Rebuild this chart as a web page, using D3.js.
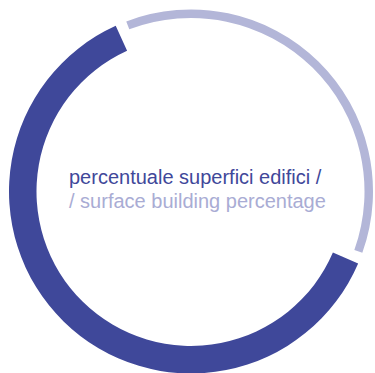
<!DOCTYPE html>
<html>
<head>
<meta charset="utf-8">
<script src="https://cdn.jsdelivr.net/npm/d3@7"></script>
<style>
  html, body { margin: 0; padding: 0; background: #fff; }
  svg { display: block; }
</style>
</head>
<body>
<div id="chart"></div>
<script>
// share of surface covered by buildings vs the rest
const categories = ["edifici", "altro"];
const values = [63, 37];
const colors = ["#3f489a", "#b3b6d8"];
const titleLines = ["percentuale superfici edifici /", "/ surface building percentage"];
const titleColors = ["#3f489a", "#a9acd4"];

function drawRing(containerId) {
  const width = 375;
  const height = 373;
  const cx = 191, cy = 191.5;
  const outer = 182;
  // thick ring for buildings, thin one for the remainder
  const inner = [154.5, 173.5];

  const svg = d3.select(containerId).append("svg")
    .attr("width", width)
    .attr("height", height);

  const g = svg.append("g")
    .attr("transform", `translate(${cx},${cy})`);

  const pie = d3.pie()
    .sort(null)
    .startAngle(111.5 * Math.PI / 180)
    .endAngle(471.5 * Math.PI / 180)
    .padAngle(3.6 * Math.PI / 180);

  const slices = pie(values);

  // radial cuts at the gaps instead of d3's parallel padding
  const arc = d3.arc()
    .outerRadius(outer)
    .innerRadius((d, i) => inner[i])
    .startAngle(d => d.startAngle + d.padAngle / 2)
    .endAngle(d => d.endAngle - d.padAngle / 2)
    .padAngle(0);

  g.selectAll("path.slice")
    .data(slices)
    .enter()
    .append("path")
    .attr("class", "slice")
    .attr("d", (d, i) => arc(d, i))
    .attr("fill", (d, i) => colors[i])
    .append("title")
    .text((d, i) => `${categories[i]}: ${values[i]}%`);

  g.selectAll("text.title")
    .data(titleLines)
    .enter()
    .append("text")
    .attr("class", "title")
    .attr("x", -122)
    .attr("y", (d, i) => -7.5 + i * 23.5)
    .attr("text-anchor", "start")
    .style("font-family", "'Liberation Sans', Arial, sans-serif")
    .style("font-size", "20px")
    .style("fill", (d, i) => titleColors[i])
    .text(d => d);
}

drawRing("#chart");
</script>
</body>
</html>
